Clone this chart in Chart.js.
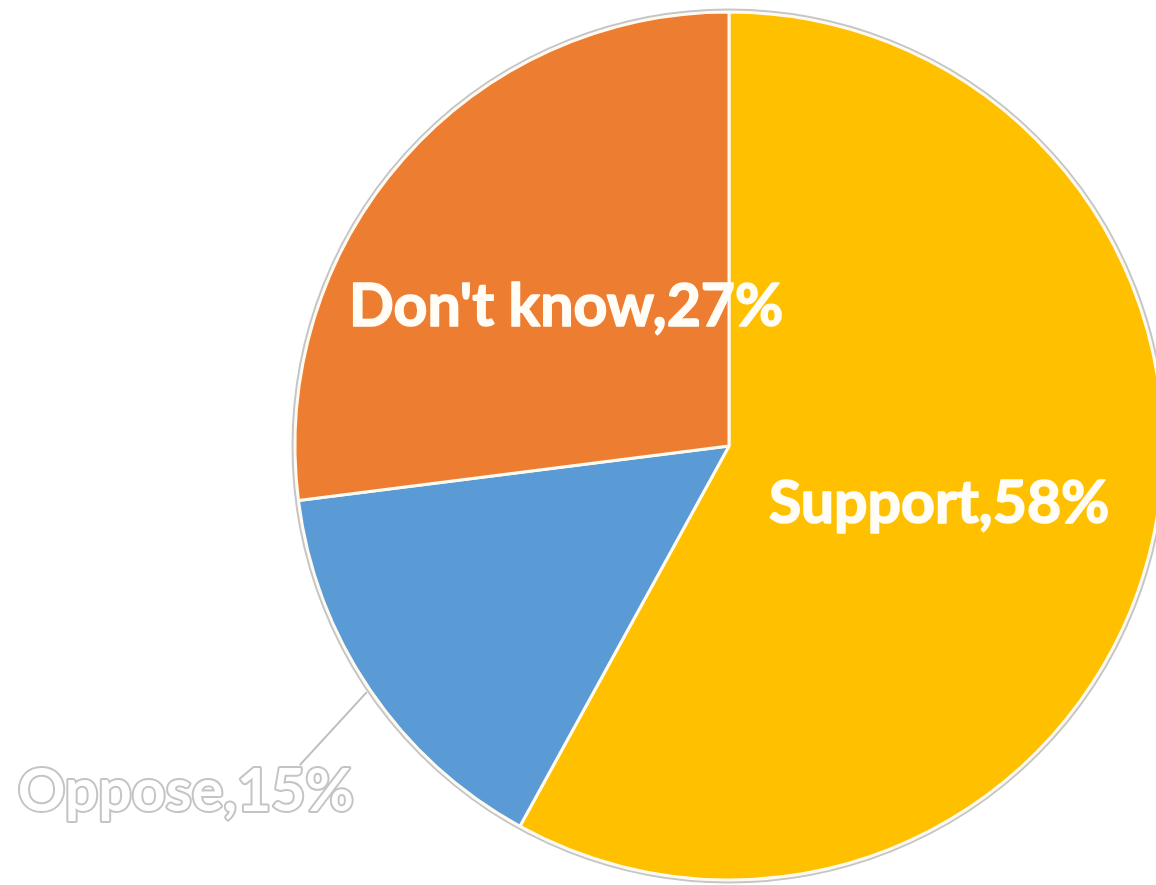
<!DOCTYPE html>
<html>
<head>
<meta charset="utf-8">
<script src="https://cdn.jsdelivr.net/npm/chart.js@4.4.1/dist/chart.umd.min.js"></script>
<style>
  html, body { margin: 0; padding: 0; background: #fff; }
  #wrap { width: 1156px; height: 885px; }
</style>
</head>
<body>
<div id="wrap"><canvas id="pie-chart"></canvas></div>
<script>
// Survey answers
var labels = ["Support", "Oppose", "Don't know"];
var shares = [58, 15, 27];
var colors = ["#FFC000", "#5B9BD5", "#ED7D31"];
// labels that sit outside the pie on a leader line
var outside = [false, true, false];

// draws the grey rim and the "name,value%" labels
var sliceLabels = {
    id: 'sliceLabels',
    afterDatasetsDraw: function(chart) {
        var ctx = chart.ctx;
        var meta = chart.getDatasetMeta(0);
        var first = meta.data[0];

        ctx.save();
        ctx.beginPath();
        ctx.arc(first.x, first.y, first.outerRadius + 2.5, 0, Math.PI * 2);
        ctx.strokeStyle = "#c6c6c6";
        ctx.lineWidth = 2;
        ctx.stroke();

        ctx.textAlign = "center";
        ctx.textBaseline = "middle";
        ctx.font = "bold 59px Lato";
        ctx.lineJoin = "round";

        meta.data.forEach(function(arc, i) {
            var text = labels[i] + "," + shares[i] + "%";
            if (!outside[i]) {
                var p = arc.getCenterPoint();
                // thin stroke in the same colour makes the glyphs a bit heavier
                ctx.fillStyle = "#fffdf6";
                ctx.strokeStyle = "#fffdf6";
                ctx.lineWidth = 1.6;
                ctx.strokeText(text, p.x, p.y + 4);
                ctx.fillText(text, p.x, p.y + 4);
                return;
            }
            var mid = (arc.startAngle + arc.endAngle) / 2;
            var r = arc.outerRadius + 4;
            var x0 = arc.x + Math.cos(mid) * r;
            var y0 = arc.y + Math.sin(mid) * r;
            var x1 = x0 - 67, y1 = y0 + 73;
            ctx.beginPath();
            ctx.moveTo(x0, y0);
            ctx.lineTo(x1, y1);
            ctx.strokeStyle = "#bdbdbd";
            ctx.lineWidth = 2;
            ctx.stroke();

            ctx.lineWidth = 4;
            ctx.strokeStyle = "#c4c4c4";
            ctx.strokeText(text, x1 - 114, y1 + 27);
            ctx.fillStyle = "#ffffff";
            ctx.fillText(text, x1 - 114, y1 + 27);
        });
        ctx.restore();
    }
};

var ctx = document.getElementById("pie-chart");

var chartData = {
    labels: labels,
    datasets: [{
        data: shares,
        backgroundColor: colors,
        borderColor: "#fffaf0",
        borderWidth: 3,
        radius: 434,
        clip: false
    }]
};

var config = {
    type: 'pie',
    data: chartData,
    options: {
        responsive: true,
        maintainAspectRatio: false,
        animation: false,
        layout: { padding: { left: 302, right: 0, top: 7, bottom: 0 } },
        plugins: {
            legend: { display: false },
            tooltip: { enabled: false }
        }
    },
    plugins: [sliceLabels]
};

var pieChart = new Chart(ctx, config);
</script>
</body>
</html>
